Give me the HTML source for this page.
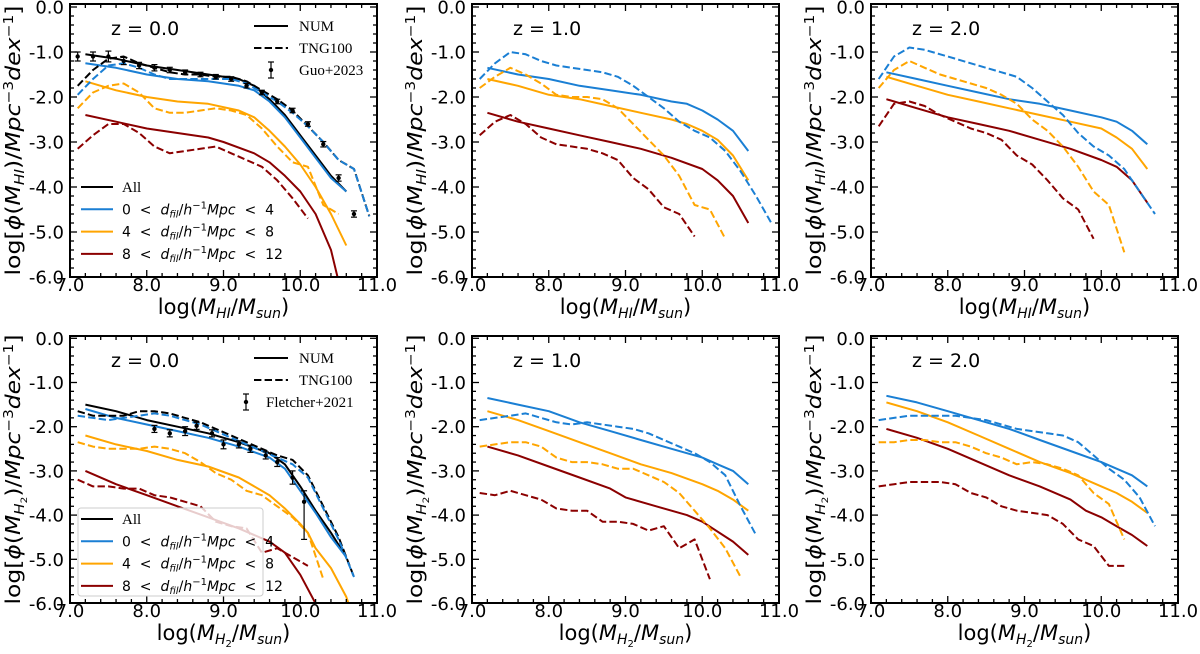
<!DOCTYPE html>
<html><head><meta charset="utf-8"><title>HI and H2 mass functions</title>
<style>
html,body{margin:0;padding:0;background:#fff;}
svg{display:block;}
text{font-family:"DejaVu Sans","Liberation Sans",sans-serif;fill:#000;}
.serif{font-family:"Liberation Serif","DejaVu Serif",serif;}
</style></head>
<body>
<svg id="fig" width="1200" height="654" viewBox="0 0 1200 654" xmlns="http://www.w3.org/2000/svg"></svg>
<script>
// ---------- data ----------
const xTng = [7.1,7.3,7.5,7.7,7.9,8.1,8.3,8.5,8.7,8.9,9.1,9.3,9.5,9.7,9.9,10.1,10.3,10.5,10.7,10.9];
const yTicks = [0,-1,-2,-3,-4,-5,-6];
const yTickLabels = ["0.0","-1.0","-2.0","-3.0","-4.0","-5.0","-6.0"];
const xTicks = [7,8,9,10,11];
const xTickLabels = ["7.0","8.0","9.0","10.0","11.0"];
const panelZ = ["z = 0.0","z = 1.0","z = 2.0","z = 0.0","z = 1.0","z = 2.0"];

// Panel 1: HI z=0
const p1xA = [7.2,7.6,8.0,8.4,8.8,9.2,9.4,9.6,9.8,10.0,10.2,10.4,10.6];
const p1AllNum = [-1.05,-1.15,-1.3,-1.4,-1.5,-1.6,-1.75,-2.05,-2.4,-2.85,-3.3,-3.75,-4.1];
const p1BlueNum = [-1.25,-1.35,-1.5,-1.6,-1.65,-1.75,-1.85,-2.1,-2.45,-2.9,-3.35,-3.8,-4.1];
const p1OrangeNum = [-1.65,-1.85,-2.0,-2.1,-2.15,-2.3,-2.45,-2.75,-3.1,-3.5,-4.0,-4.6,-5.3];
const p1xR = [7.2,7.6,8.0,8.4,8.8,9.0,9.4,9.6,9.8,10.0,10.2,10.4,10.5];
const p1RedNum = [-2.4,-2.55,-2.7,-2.8,-2.9,-3.0,-3.25,-3.45,-3.75,-4.1,-4.6,-5.4,-6.1];
const p1AllTng = [-1.75,-1.4,-1.15,-1.1,-1.25,-1.35,-1.45,-1.5,-1.5,-1.55,-1.55,-1.65,-1.85,-2.05,-2.3,-2.65,-3.0,-3.4,-3.6,-4.65];
const p1BlueTng = [-1.95,-1.6,-1.3,-1.25,-1.35,-1.5,-1.6,-1.6,-1.6,-1.6,-1.6,-1.7,-1.9,-2.1,-2.35,-2.65,-3.0,-3.4,-3.6,-4.65];
const p1OrangeTng = [-2.25,-1.9,-1.75,-1.7,-1.9,-2.25,-2.35,-2.35,-2.3,-2.25,-2.3,-2.4,-2.7,-3.1,-3.45,-3.55,-4.4,-4.6];
const p1RedTng = [-3.15,-2.85,-2.6,-2.6,-2.8,-3.1,-3.25,-3.2,-3.15,-3.1,-3.25,-3.4,-3.55,-3.85,-4.25,-4.7];
const guoX = [7.1,7.3,7.5,7.7,7.9,8.1,8.3,8.5,8.7,8.9,9.1,9.3,9.5,9.7,9.9,10.1,10.3,10.5,10.7];
const guoY = [-1.1,-1.1,-1.1,-1.2,-1.3,-1.35,-1.4,-1.45,-1.5,-1.55,-1.6,-1.75,-1.9,-2.1,-2.3,-2.6,-3.05,-3.8,-4.6];
const guoErr = [0.1,0.1,0.12,0.08,0.07,0.07,0.06,0.05,0.05,0.05,0.05,0.05,0.05,0.05,0.05,0.05,0.06,0.07,0.07];

// Panel 2: HI z=1
const p2xN = [7.2,7.6,8.0,8.4,8.8,9.2,9.6,9.8,10.0,10.2,10.4,10.6];
const p2BlueNum = [-1.35,-1.5,-1.6,-1.75,-1.85,-1.95,-2.1,-2.15,-2.3,-2.5,-2.75,-3.2];
const p2OrangeNum = [-1.6,-1.75,-1.95,-2.05,-2.2,-2.35,-2.5,-2.6,-2.75,-2.95,-3.3,-3.85];
const p2xR = [7.2,7.6,8.0,8.4,8.8,9.2,9.6,10.0,10.2,10.4,10.6];
const p2RedNum = [-2.35,-2.55,-2.7,-2.85,-3.0,-3.15,-3.35,-3.6,-3.85,-4.2,-4.8];
const p2BlueTng = [-1.6,-1.25,-1.0,-1.05,-1.2,-1.3,-1.35,-1.4,-1.45,-1.55,-1.75,-2.0,-2.25,-2.55,-2.75,-2.9,-3.2,-3.65,-4.2,-4.8];
const p2OrangeTng = [-1.8,-1.55,-1.35,-1.5,-1.7,-1.95,-2.0,-2.0,-2.05,-2.25,-2.6,-2.95,-3.3,-3.75,-4.4,-4.5,-5.15];
const p2RedTng = [-2.85,-2.55,-2.4,-2.6,-2.9,-3.05,-3.1,-3.15,-3.25,-3.4,-3.8,-4.05,-4.45,-4.6,-5.1];

// Panel 3: HI z=2
const p3xN = [7.2,7.6,8.0,8.4,8.8,9.2,9.6,10.0,10.2,10.4,10.6];
const p3BlueNum = [-1.45,-1.6,-1.75,-1.9,-2.05,-2.15,-2.3,-2.45,-2.55,-2.75,-3.05];
const p3OrangeNum = [-1.55,-1.75,-1.95,-2.1,-2.25,-2.4,-2.55,-2.7,-2.9,-3.15,-3.6];
const p3RedNum = [-2.05,-2.25,-2.45,-2.6,-2.75,-2.95,-3.15,-3.4,-3.55,-3.85,-4.35];
const p3BlueTng = [-1.6,-1.1,-0.9,-0.95,-1.05,-1.15,-1.25,-1.35,-1.45,-1.55,-1.8,-2.1,-2.4,-2.8,-3.1,-3.3,-3.6,-4.1,-4.6];
const p3OrangeTng = [-1.8,-1.4,-1.2,-1.35,-1.5,-1.6,-1.7,-1.8,-1.95,-2.15,-2.5,-2.75,-3.1,-3.55,-4.1,-4.4,-5.45];
const p3RedTng = [-2.65,-2.15,-2.1,-2.2,-2.4,-2.55,-2.7,-2.8,-2.95,-3.3,-3.5,-3.85,-4.25,-4.5,-5.15];

// Panel 4: H2 z=0
const p4xN = [7.2,7.6,8.0,8.4,8.8,9.2,9.6,9.8,10.0,10.2,10.4,10.6];
const p4AllNum = [-1.5,-1.65,-1.85,-2.0,-2.15,-2.35,-2.6,-2.85,-3.35,-3.9,-4.4,-4.95];
const p4BlueNum = [-1.6,-1.8,-1.95,-2.1,-2.25,-2.45,-2.7,-2.95,-3.45,-3.95,-4.5,-4.95];
const p4xO = [7.2,7.6,8.0,8.4,8.8,9.2,9.6,9.8,10.0,10.1,10.2,10.4,10.6,10.65];
const p4OrangeNum = [-2.2,-2.4,-2.55,-2.75,-2.9,-3.15,-3.55,-3.85,-4.2,-4.4,-4.75,-5.2,-5.85,-6.1];
const p4xR = [7.2,7.6,8.0,8.4,8.8,9.2,9.6,9.8,10.0,10.2];
const p4RedNum = [-3.0,-3.3,-3.55,-3.8,-4.05,-4.3,-4.6,-4.85,-5.35,-6.0];
const p4AllTng = [-1.65,-1.75,-1.75,-1.75,-1.65,-1.65,-1.7,-1.8,-1.9,-2.05,-2.2,-2.35,-2.5,-2.65,-2.75,-3.1,-3.8,-4.5,-5.4];
const p4BlueTng = [-1.75,-1.8,-1.85,-1.8,-1.75,-1.7,-1.75,-1.85,-1.95,-2.1,-2.25,-2.4,-2.55,-2.7,-2.85,-3.15,-3.85,-4.55,-5.4];
const p4OrangeTng = [-2.35,-2.45,-2.5,-2.5,-2.5,-2.45,-2.5,-2.6,-2.8,-3.05,-3.2,-3.45,-3.55,-3.8,-4.05,-4.4,-5.45];
const p4RedTng = [-3.2,-3.35,-3.35,-3.4,-3.4,-3.55,-3.6,-3.7,-3.8,-4.15,-4.25,-4.3,-4.85,-4.75,-4.95,-5.15];
const fletX = [8.1,8.3,8.5,8.65,8.85,9.0,9.2,9.35,9.55,9.7,9.9,10.05];
const fletY = [-2.05,-2.15,-2.1,-1.98,-2.15,-2.4,-2.4,-2.5,-2.65,-2.8,-3.15,-3.7];
const fletErrUp = [0.08,0.08,0.1,0.08,0.08,0.1,0.08,0.08,0.08,0.1,0.15,0.25];
const fletErrDn = [0.08,0.08,0.1,0.08,0.08,0.1,0.08,0.08,0.08,0.1,0.15,0.85];

// Panel 5: H2 z=1
const p5xN = [7.2,7.6,8.0,8.4,8.8,9.2,9.6,10.0,10.2,10.4,10.6];
const p5BlueNum = [-1.35,-1.5,-1.65,-1.9,-2.1,-2.3,-2.5,-2.7,-2.85,-3.0,-3.3];
const p5OrangeNum = [-1.65,-1.85,-2.1,-2.35,-2.6,-2.85,-3.05,-3.3,-3.45,-3.65,-3.9];
const p5xR = [7.2,7.6,8.0,8.4,8.8,9.0,9.4,9.8,10.0,10.4,10.6];
const p5RedNum = [-2.45,-2.65,-2.9,-3.15,-3.4,-3.6,-3.8,-4.0,-4.15,-4.6,-4.9];
const p5BlueTng = [-1.85,-1.8,-1.75,-1.7,-1.8,-1.9,-1.95,-1.9,-1.95,-2.0,-2.05,-2.15,-2.3,-2.45,-2.6,-2.8,-3.1,-3.8,-4.45];
const p5OrangeTng = [-2.45,-2.4,-2.35,-2.35,-2.45,-2.7,-2.8,-2.8,-2.85,-2.95,-2.95,-3.1,-3.25,-3.5,-3.9,-4.3,-4.75,-5.4];
const p5RedTng = [-3.5,-3.55,-3.45,-3.55,-3.65,-3.85,-3.9,-3.9,-4.15,-4.15,-4.2,-4.35,-4.25,-4.75,-4.55,-5.45];

// Panel 6: H2 z=2
const p6xN = [7.2,7.6,8.0,8.4,8.8,9.2,9.6,10.0,10.2,10.4,10.6];
const p6BlueNum = [-1.3,-1.45,-1.65,-1.85,-2.05,-2.3,-2.55,-2.8,-2.95,-3.1,-3.35];
const p6OrangeNum = [-1.45,-1.65,-1.9,-2.2,-2.5,-2.8,-3.05,-3.35,-3.5,-3.7,-3.95];
const p6xR = [7.2,7.6,8.0,8.4,8.8,9.2,9.6,9.8,10.0,10.2,10.4,10.6];
const p6RedNum = [-2.05,-2.25,-2.5,-2.8,-3.1,-3.35,-3.65,-3.9,-4.05,-4.25,-4.45,-4.7];
const p6BlueTng = [-1.85,-1.8,-1.75,-1.75,-1.75,-1.75,-1.8,-1.85,-1.95,-2.05,-2.1,-2.15,-2.2,-2.35,-2.65,-2.95,-3.2,-3.6,-4.25];
const p6OrangeTng = [-2.35,-2.35,-2.3,-2.3,-2.35,-2.35,-2.45,-2.6,-2.7,-2.85,-2.8,-2.85,-2.95,-3.1,-3.5,-3.75,-4.55];
const p6RedTng = [-3.35,-3.3,-3.25,-3.25,-3.25,-3.3,-3.5,-3.6,-3.8,-3.9,-3.95,-4.0,-4.2,-4.55,-4.7,-5.15,-5.15];

// ---------- drawing ----------
const NS = "http://www.w3.org/2000/svg";
const svg = document.getElementById('fig');
const BLUE = "#1a7fd4", ORANGE = "#ffa500", RED = "#8b0000", BLACK = "#000";
function mk(tag, attrs, parent) {
  const e = document.createElementNS(NS, tag);
  for (const k in attrs) e.setAttribute(k, attrs[k]);
  (parent || svg).appendChild(e);
  return e;
}
const panels = [
  {left:70, y0:7, py:45, bottom:277, top:4, mol:false},
  {left:472, y0:7, py:45, bottom:277, top:4, mol:false},
  {left:871, y0:7, py:45, bottom:277, top:4, mol:false},
  {left:70, y0:338.3, py:44.2, bottom:603, top:336, mol:true},
  {left:472, y0:338.3, py:44.2, bottom:603, top:336, mol:true},
  {left:871, y0:338.3, py:44.2, bottom:603, top:336, mol:true}
];
const W = 307, PX = W / 4;
function sx(p, v) { return p.left + (v - 7) * PX; }
function sy(p, v) { return p.y0 - v * p.py; }

const series = [
  [[p1xA,p1AllNum,BLACK,0],[p1xA,p1BlueNum,BLUE,0],[p1xA,p1OrangeNum,ORANGE,0],[p1xR,p1RedNum,RED,0],
   [xTng,p1AllTng,BLACK,1],[xTng,p1BlueTng,BLUE,1],[xTng,p1OrangeTng,ORANGE,1],[xTng,p1RedTng,RED,1]],
  [[p2xN,p2BlueNum,BLUE,0],[p2xN,p2OrangeNum,ORANGE,0],[p2xR,p2RedNum,RED,0],
   [xTng,p2BlueTng,BLUE,1],[xTng,p2OrangeTng,ORANGE,1],[xTng,p2RedTng,RED,1]],
  [[p3xN,p3BlueNum,BLUE,0],[p3xN,p3OrangeNum,ORANGE,0],[p3xN,p3RedNum,RED,0],
   [xTng,p3BlueTng,BLUE,1],[xTng,p3OrangeTng,ORANGE,1],[xTng,p3RedTng,RED,1]],
  [[p4xN,p4AllNum,BLACK,0],[p4xN,p4BlueNum,BLUE,0],[p4xO,p4OrangeNum,ORANGE,0],[p4xR,p4RedNum,RED,0],
   [xTng,p4AllTng,BLACK,1],[xTng,p4BlueTng,BLUE,1],[xTng,p4OrangeTng,ORANGE,1],[xTng,p4RedTng,RED,1]],
  [[p5xN,p5BlueNum,BLUE,0],[p5xN,p5OrangeNum,ORANGE,0],[p5xR,p5RedNum,RED,0],
   [xTng,p5BlueTng,BLUE,1],[xTng,p5OrangeTng,ORANGE,1],[xTng,p5RedTng,RED,1]],
  [[p6xN,p6BlueNum,BLUE,0],[p6xN,p6OrangeNum,ORANGE,0],[p6xR,p6RedNum,RED,0],
   [xTng,p6BlueTng,BLUE,1],[xTng,p6OrangeTng,ORANGE,1],[xTng,p6RedTng,RED,1]]
];
const colorNames = {}; colorNames[BLACK]='all'; colorNames[BLUE]='0-4'; colorNames[ORANGE]='4-8'; colorNames[RED]='8-12';

function dfilLabel(parent, x, y, lo, hi) {
  const t = mk('text', {x:x, y:y, 'font-size':14}, parent);
  
  
  const parts = [[lo + "  <  ",{}],["d",{'font-style':'italic'}],["fil",{'font-style':'italic','font-size':10,dy:3}],
    ["/",{dy:-3}],["h",{'font-style':'italic'}],["−1",{'font-size':10,dy:-6}],["Mpc",{'font-style':'italic',dy:6}],["  <  " + hi,{}]];
  for (const [s,a] of parts) { const ts = mk('tspan', a, t); ts.textContent = s; }
  t.setAttribute('style','white-space:pre');
}

panels.forEach((p, i) => {
  const g = mk('g', {});
  
  
  const clipId = 'clip' + i;
  const cp = mk('clipPath', {id:clipId}, g);
  mk('rect', {x:p.left, y:p.top, width:W, height:p.bottom - p.top}, cp);

  const lg = mk('g', {'clip-path':'url(#' + clipId + ')'}, g);
  series[i].forEach(s => {
    const [xs, ys, col, dash] = s;
    let d = '';
    for (let k = 0; k < ys.length; k++) d += (k ? 'L' : 'M') + sx(p, xs[k]).toFixed(1) + ',' + sy(p, ys[k]).toFixed(1);
    const path = mk('path', {d:d, fill:'none', stroke:col, 'stroke-width':2, 'stroke-linejoin':'round'}, lg);
    if (dash) path.setAttribute('stroke-dasharray', '7.4,3.2');
    
    
  });

  if (i === 0 || i === 3) {
    const ox = i === 0 ? guoX : fletX, oy = i === 0 ? guoY : fletY;
    for (let k = 0; k < ox.length; k++) {
      const up = i === 0 ? guoErr[k] : fletErrUp[k], dn = i === 0 ? guoErr[k] : fletErrDn[k];
      const cx = sx(p, ox[k]), y1 = sy(p, oy[k] + up), y2 = sy(p, oy[k] - dn);
      const eg = mk('g', {}, g);
      
      
      mk('line', {x1:cx, x2:cx, y1:y1, y2:y2, stroke:'#000', 'stroke-width':1.2}, eg);
      mk('line', {x1:cx-3, x2:cx+3, y1:y1, y2:y1, stroke:'#000', 'stroke-width':1.2}, eg);
      mk('line', {x1:cx-3, x2:cx+3, y1:y2, y2:y2, stroke:'#000', 'stroke-width':1.2}, eg);
      mk('circle', {cx:cx, cy:sy(p, oy[k]), r:2.2, fill:'#000'}, eg);
    }
  }

  const fr = mk('rect', {x:p.left, y:p.top, width:W, height:p.bottom - p.top, fill:'none', stroke:'#000', 'stroke-width':2}, g);
  
  

  for (let v = 7; v <= 11.001; v += 0.2) {
    const X = sx(p, v);
    const major = Math.abs(v - Math.round(v)) < 0.01;
    const L = major ? 7 : 4;
    mk('line', {x1:X, x2:X, y1:p.bottom, y2:p.bottom - L, stroke:'#000', 'stroke-width':1.3}, g);
    mk('line', {x1:X, x2:X, y1:p.top, y2:p.top + L, stroke:'#000', 'stroke-width':1.3}, g);
  }
  for (let v = 0; v >= -6.001; v -= 0.2) {
    const Y = sy(p, v); if (Y < p.top || Y > p.bottom) continue;
    const major = Math.abs(v - Math.round(v)) < 0.01;
    const L = major ? 7 : 4;
    mk('line', {x1:p.left, x2:p.left + L, y1:Y, y2:Y, stroke:'#000', 'stroke-width':1.3}, g);
    mk('line', {x1:p.left + W, x2:p.left + W - L, y1:Y, y2:Y, stroke:'#000', 'stroke-width':1.3}, g);
  }
  yTicks.forEach((v, k) => {
    const t = mk('text', {x:p.left - 6, y:sy(p, v) + 6.5, 'font-size':18, 'text-anchor':'end'}, g);
    t.textContent = yTickLabels[k];
    
    
  });
  xTicks.forEach((v, k) => {
    const t = mk('text', {x:sx(p, v), y:p.bottom + 14, 'font-size':18, 'text-anchor':'middle'}, g);
    t.textContent = xTickLabels[k];
    
    
  });

  const sub = p.mol ? 'H' : 'HI';
  const xt = mk('text', {x:p.left + W/2, y:p.bottom + 37, 'font-size':21, 'text-anchor':'middle'}, g);
  
  
  const xparts = [["log(",{}],["M",{'font-style':'italic'}],[sub,{'font-style':'italic','font-size':14,dy:4}]];
  if (p.mol) xparts.push(["2",{'font-size':10,dy:3}]);
  xparts.push(["/",{dy:p.mol ? -7 : -4}],["M",{'font-style':'italic'}],["sun",{'font-style':'italic','font-size':14,dy:4}],[")",{dy:-4}]);
  for (const [s,a] of xparts) { const ts = mk('tspan', a, xt); ts.textContent = s; }

  const cy = (p.top + p.bottom) / 2, cx = p.left - 50;
  const yt = mk('text', {x:cx, y:cy, 'font-size':20, 'text-anchor':'middle', transform:'rotate(-90 ' + cx + ' ' + cy + ')', textLength:270, lengthAdjust:'spacingAndGlyphs'}, g);
  
  
  const yparts = [["log[",{}],["ϕ",{'font-style':'italic'}],["(",{}],["M",{'font-style':'italic'}],[sub,{'font-style':'italic','font-size':13,dy:4}]];
  if (p.mol) yparts.push(["2",{'font-size':9,dy:3}]);
  yparts.push([")/",{dy:p.mol ? -7 : -4}],["Mpc",{'font-style':'italic'}],["−3",{'font-size':13,dy:-7}],["dex",{'font-style':'italic',dy:7}],["−1",{'font-size':13,dy:-7}],["]",{dy:7}]);
  for (const [s,a] of yparts) { const ts = mk('tspan', a, yt); ts.textContent = s; }

  const zt = mk('text', {x:p.left + 41, y:p.top + 31, 'font-size':19}, g);
  zt.textContent = panelZ[i];
  
  

  if (i === 0 || i === 3) {
    const L = mk('g', {}, g);
    
    
    const ly = p.top + 22, lx = p.left + 184;
    mk('line', {x1:lx, x2:lx+34, y1:ly, y2:ly, stroke:'#000', 'stroke-width':2}, L);
    mk('line', {x1:lx, x2:lx+34, y1:ly+22, y2:ly+22, stroke:'#000', 'stroke-width':2, 'stroke-dasharray':'7.4,3.2'}, L);
    const ex = i === 0 ? lx + 17 : lx - 8;
    mk('line', {x1:ex, x2:ex, y1:ly+36, y2:ly+52, stroke:'#000', 'stroke-width':1.2}, L);
    mk('line', {x1:ex-3, x2:ex+3, y1:ly+36, y2:ly+36, stroke:'#000', 'stroke-width':1.2}, L);
    mk('line', {x1:ex-3, x2:ex+3, y1:ly+52, y2:ly+52, stroke:'#000', 'stroke-width':1.2}, L);
    mk('circle', {cx:ex, cy:ly+44, r:2.2, fill:'#000'}, L);
    const names = ["NUM","TNG100", i === 0 ? "Guo+2023" : "Fletcher+2021"];
    names.forEach((n, k) => {
      const t = mk('text', {x: (i === 0 || k < 2 ? lx + 45 : lx + 12), y: ly + 5 + k*22, 'font-size':15, class:'serif'}, L);
      t.textContent = n;
      
      
    });

    const B = mk('g', {}, g);
    
    
    const by = i === 0 ? 187 : 519;
    if (i === 3) mk('rect', {x:78, y:508, width:185, height:88, rx:3, fill:'#fff', 'fill-opacity':0.8, stroke:'#ccc', 'stroke-width':1}, B);
    const cols = [BLACK, BLUE, ORANGE, RED];
    cols.forEach((c, k) => {
      mk('line', {x1:81, x2:113, y1:by + k*22.3, y2:by + k*22.3, stroke:c, 'stroke-width':2}, B);
    });
    const at = mk('text', {x:122, y:by + 5, 'font-size':15, class:'serif'}, B);
    at.textContent = 'All';
    
    
    dfilLabel(B, 122, by + 22.3 + 5, '0', '4');
    dfilLabel(B, 122, by + 44.6 + 5, '4', '8');
    dfilLabel(B, 122, by + 66.9 + 5, '8', '12');
  }
});
</script>
</body></html>
